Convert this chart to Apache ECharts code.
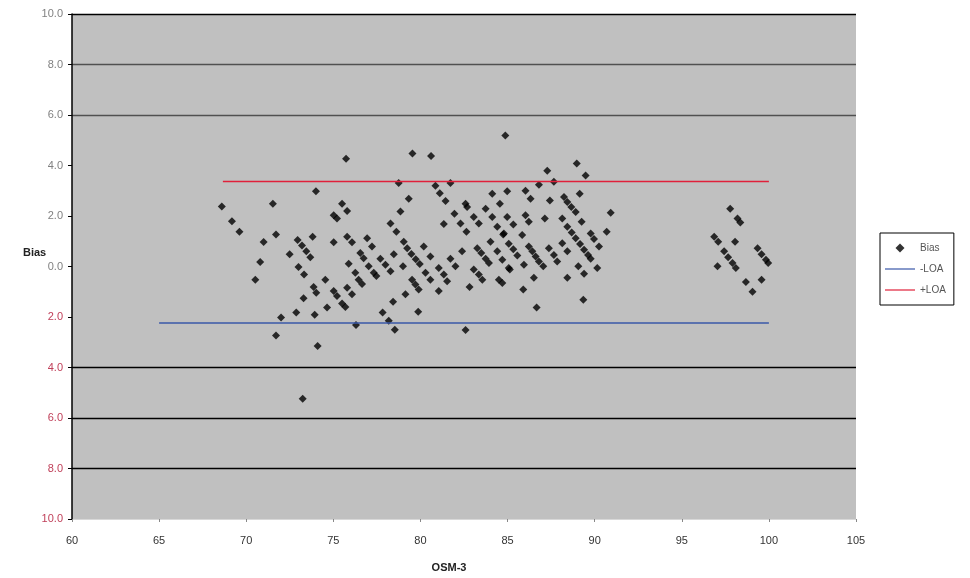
<!DOCTYPE html>
<html>
<head>
<meta charset="utf-8">
<title>Bias vs OSM-3</title>
<script src="https://cdn.jsdelivr.net/npm/echarts@6/dist/echarts.min.js"></script>
<style type="text/css">
	html, body { margin: 0; padding: 0; background: #fff; }
	#chart { width: 970px; height: 578px; }
</style>
</head>
<body>
<div id="chart"></div>
<script type="text/javascript">
/* data: [OSM-3, bias] */
var biasPoints = [
	[75.73,4.27],[68.6,2.38],[71.53,2.49],[74.0,2.98],[69.18,1.79],[69.61,1.38],[71.71,1.27],[71.0,0.97],
	[70.8,0.18],[70.52,-0.52],[72.49,0.49],[72.95,1.05],[73.2,0.83],[73.45,0.6],[73.68,0.37],[73.81,1.18],
	[73.0,-0.02],[73.32,-0.32],[72.0,-2.02],[71.71,-2.73],[74.1,-3.15],[73.24,-5.24],[72.87,-1.82],[73.29,-1.26],
	[73.87,-0.81],[74.02,-1.04],[73.93,-1.91],[74.54,-0.52],[74.64,-1.62],[75.02,0.96],[75.02,2.03],[75.21,1.9],
	[75.5,2.49],[75.79,2.2],[75.79,1.18],[76.07,0.96],[75.88,0.11],[75.02,-0.97],[75.21,-1.17],[75.5,-1.47],
	[75.69,-1.6],[75.79,-0.84],[76.07,-1.1],[76.26,-0.25],[76.3,-2.32],
	[79.54,4.48],[80.61,4.38],[78.75,3.31],[80.86,3.2],[81.72,3.31],[79.33,2.68],[81.11,2.9],[81.44,2.59],
	[78.85,2.18],[78.28,1.7],[78.62,1.38],[81.34,1.68],[81.95,2.09],[82.59,2.49],[82.68,2.36],[83.06,1.96],
	[83.35,1.7],[82.3,1.7],[82.64,1.38],[84.12,2.88],[84.56,2.49],[84.98,2.98],[83.74,2.29],[84.12,1.96],
	[84.41,1.57],[84.75,1.27],[84.98,1.96],[84.02,0.98],[79.04,0.98],[80.19,0.79],[79.24,0.72],[79.48,0.5],
	[79.73,0.29],[79.96,0.1],[80.57,0.4],[81.72,0.31],[82.01,0.01],[82.39,0.6],[83.26,0.72],[83.49,0.53],
	[83.74,0.31],[83.93,0.14],[84.41,0.6],[84.7,0.27],[85.07,-0.06],[78.47,0.49],[79.0,0.01],[77.7,0.31],
	[77.99,0.07],[78.28,-0.19],[76.94,1.12],[77.22,0.79],[76.55,0.53],[76.74,0.33],[77.03,0.01],[77.32,-0.25],
	[77.47,-0.38],[76.45,-0.52],[76.65,-0.69],[79.52,-0.52],[79.71,-0.71],[79.9,-0.91],[80.29,-0.25],[80.57,-0.52],
	[81.05,-0.06],[81.34,-0.32],[81.53,-0.58],[81.05,-0.97],[79.14,-1.1],[83.06,-0.12],[83.35,-0.32],[83.55,-0.52],
	[82.82,-0.81],[84.5,-0.52],[84.7,-0.65],[78.43,-1.4],[77.83,-1.82],[78.18,-2.15],[78.53,-2.5],[79.87,-1.79],
	[82.59,-2.51],
	[84.87,5.19],[88.97,4.08],[87.28,3.79],[89.48,3.6],[86.8,3.24],[87.66,3.36],[86.03,3.0],[86.32,2.68],
	[87.43,2.61],[89.14,2.88],[88.24,2.75],[88.43,2.55],[88.66,2.36],[88.91,2.16],[90.92,2.13],[85.33,1.66],
	[86.03,2.03],[86.22,1.77],[87.14,1.9],[88.14,1.9],[89.25,1.77],[88.43,1.57],[88.68,1.35],[88.91,1.12],
	[89.16,0.89],[89.39,0.66],[89.62,0.46],[89.77,1.31],[89.96,1.09],[90.69,1.38],[90.25,0.79],[84.79,1.31],
	[85.84,1.25],[85.07,0.9],[85.33,0.68],[85.56,0.44],[86.22,0.79],[86.42,0.6],[86.61,0.4],[86.8,0.2],
	[87.37,0.72],[88.14,0.92],[88.43,0.6],[87.66,0.46],[87.85,0.2],[85.94,0.07],[87.05,0.01],[89.06,0.01],
	[89.39,-0.29],[89.77,0.31],[90.15,-0.06],[85.13,-0.12],[86.51,-0.45],[88.43,-0.45],[85.9,-0.91],[89.35,-1.32],
	[86.67,-1.62],
	[97.78,2.29],[98.2,1.9],[98.36,1.74],[96.86,1.18],[97.09,0.98],[98.06,0.98],[97.43,0.6],[97.66,0.37],
	[97.91,0.14],[98.1,-0.06],[97.05,0.01],[99.35,0.72],[99.58,0.49],[99.83,0.27],[99.96,0.14],[98.68,-0.61],
	[99.58,-0.52],[99.06,-1.0]
];
/* limits of agreement */
var lowerLoa = -2.24;
var upperLoa = 3.37;
var lowerLoaRange = [65, 100];
var upperLoaRange = [68.66, 100];
/* axes */
var xTicks = [60, 105, 5];
var yTicks = [-10, 10, 2];
/* grid line colours from min to max: -10 ... 10 */
var gridColors = ['rgba(0,0,0,0)','#000','#000','#000','rgba(0,0,0,0)','rgba(0,0,0,0)',
	'rgba(0,0,0,0)','rgba(0,0,0,0)','#505050','#505050','#000'];

// legend icons, padded out to the 30x10 item box so they are not stretched
var diamondIcon = 'path://M0,0M30,10M15,0.5L19.5,5L15,9.5L10.5,5Z';
var lineIcon = 'path://M0,0M30,10M0,4.4L30,4.4L30,5.6L0,5.6Z';

var myChart = echarts.init(document.getElementById('chart'));
var option = {
	backgroundColor: '#fff',
	textStyle: { fontFamily: 'Liberation Sans, Arial, sans-serif' },
	animation: false,
	grid: {
		left: 72,
		right: 114,
		top: 14,
		bottom: 53,
		show: true,
		backgroundColor: '#c0c0c0',
		borderWidth: 0
	},
	legend: {
		orient: 'vertical',
		left: 880,
		top: 233,
		itemWidth: 30,
		itemHeight: 10,
		itemGap: 11,
		padding: [10, 8, 10, 5],
		borderColor: '#000',
		borderWidth: 1,
		backgroundColor: '#fff',
		textStyle: { fontSize: 10, color: '#555' },
		data: [
			{ name: 'Bias', icon: diamondIcon },
			{ name: '-LOA', icon: lineIcon },
			{ name: '+LOA', icon: lineIcon }
		]
	},
	graphic: [
		{
			type: 'text',
			left: 23,
			top: 247,
			style: { text: 'Bias', font: 'bold 11px "Liberation Sans", Arial, sans-serif', fill: '#222' }
		}
	],
	xAxis: {
		type: 'value',
		min: xTicks[0],
		max: xTicks[1],
		interval: xTicks[2],
		name: 'OSM-3',
		nameLocation: 'middle',
		nameGap: 43,
		nameTextStyle: { fontSize: 11, fontWeight: 'bold', color: '#222', padding: [0, 30, 0, 0] },
		axisLine: { show: true, onZero: false, lineStyle: { color: '#d8d8d8', width: 1 } },
		axisTick: { show: true, length: 3, lineStyle: { color: '#888' } },
		axisLabel: { fontSize: 11, color: '#333', margin: 16 },
		splitLine: { show: false }
	},
	yAxis: {
		type: 'value',
		min: yTicks[0],
		max: yTicks[1],
		interval: yTicks[2],
		axisLine: { show: true, onZero: false, lineStyle: { color: '#000', width: 1.5 } },
		axisTick: { show: true, length: 4, lineStyle: { color: '#000' } },
		axisLabel: {
			fontSize: 11,
			margin: 9,
			formatter: function (v) { return Math.abs(v).toFixed(1); },
			color: function (v) { return v < 0 ? '#c0405a' : '#808080'; }
		},
		splitLine: { show: true, lineStyle: { color: gridColors, width: 1.3 } }
	},
	series: [
		{
			name: 'Bias',
			type: 'scatter',
			symbol: 'diamond',
			symbolSize: 8,
			itemStyle: { color: '#000' },
			data: biasPoints
		},
		{
			name: '-LOA',
			type: 'line',
			symbol: 'none',
			lineStyle: { color: '#3a58a8', width: 1.5 },
			itemStyle: { color: '#3a58a8' },
			data: [[lowerLoaRange[0], lowerLoa], [lowerLoaRange[1], lowerLoa]]
		},
		{
			name: '+LOA',
			type: 'line',
			symbol: 'none',
			lineStyle: { color: '#e0203a', width: 1.5 },
			itemStyle: { color: '#e0203a' },
			data: [[upperLoaRange[0], upperLoa], [upperLoaRange[1], upperLoa]]
		}
	]
};
myChart.setOption(option, true);
</script>
</body>
</html>
